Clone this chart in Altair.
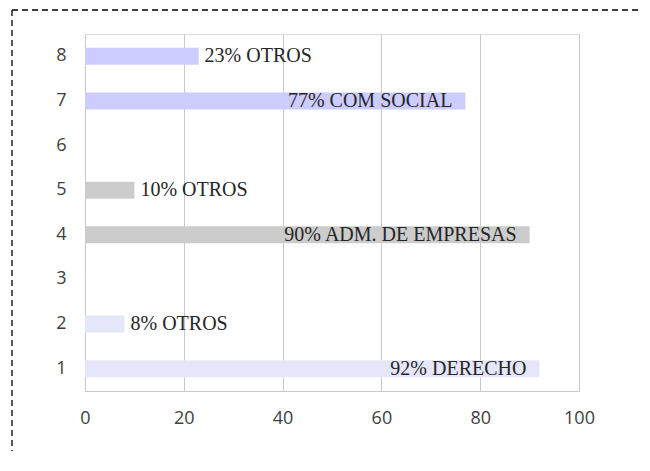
import altair as alt
import pandas as pd

categories = ["1", "2", "3", "4", "5", "6", "7", "8"]
values = [92, 8, None, 90, 10, None, 77, 23]
labels = ["92% DERECHO", "8% OTROS", "", "90% ADM. DE EMPRESAS", "10% OTROS", "", "77% COM SOCIAL", "23% OTROS"]
colors = ["#E6E6FA", "#E6E6FA", "#FFFFFF", "#CCCCCC", "#CCCCCC", "#FFFFFF", "#CCCCFF", "#CCCCFF"]

df = pd.DataFrame({"cat": categories, "value": values, "label": labels, "color": colors})
bars_df = df.dropna(subset=["value"])

W, H = 494, 357
PL, PT, PR, PB = 77, 26, 62, 60

yscale = alt.Scale(domain=list(reversed(categories)))
xscale = alt.Scale(domain=[0, 100])

base = alt.Chart(bars_df).encode(
    y=alt.Y("cat:N", scale=yscale, title=None,
            axis=alt.Axis(labelFont="Open Sans", labelFontSize=18, labelColor="#404040",
                          ticks=False, domain=False, labelPadding=19, grid=False)),
)

bars = base.mark_bar(size=17).encode(
    x=alt.X("value:Q", scale=xscale, title=None,
            axis=alt.Axis(values=[0, 20, 40, 60, 80, 100], labelFont="Open Sans", labelFontSize=18,
                          labelColor="#404040", ticks=False, domainColor="#C8C8C8",
                          gridColor="#C8C8C8", grid=True, labelPadding=18, labelFlush=False)),
    color=alt.Color("color:N", scale=None, legend=None),
)

text_style = dict(font="Liberation Serif", fontSize=20, color="#262626", baseline="middle")

inside = base.transform_filter("datum.value > 50").mark_text(align="right", dx=-13, **text_style).encode(
    x=alt.X("value:Q", scale=xscale), text="label:N")
outside = base.transform_filter("datum.value <= 50").mark_text(align="left", dx=6, **text_style).encode(
    x=alt.X("value:Q", scale=xscale), text="label:N")

border_top = alt.Chart(pd.DataFrame({"a": [0]})).mark_rule(
    color="#000000", strokeWidth=1.3, strokeDash=[6, 4], clip=False).encode(
    x=alt.value(-73), x2=alt.value(W + PR + 10), y=alt.value(-24))
border_left = alt.Chart(pd.DataFrame({"a": [0]})).mark_rule(
    color="#000000", strokeWidth=1.3, strokeDash=[6, 4], clip=False).encode(
    x=alt.value(-73), y=alt.value(-24), y2=alt.value(H + PB + 10))

chart = alt.layer(bars, inside, outside, border_top, border_left).properties(
    width=W, height=H,
    autosize=alt.AutoSizeParams(type="none"),
    padding={"left": PL, "top": PT, "right": PR, "bottom": PB},
).configure_view(stroke="#C8C8C8", strokeWidth=1).configure(background="white")

chart.save("out.html", embed_options={"renderer": "svg", "actions": False})
